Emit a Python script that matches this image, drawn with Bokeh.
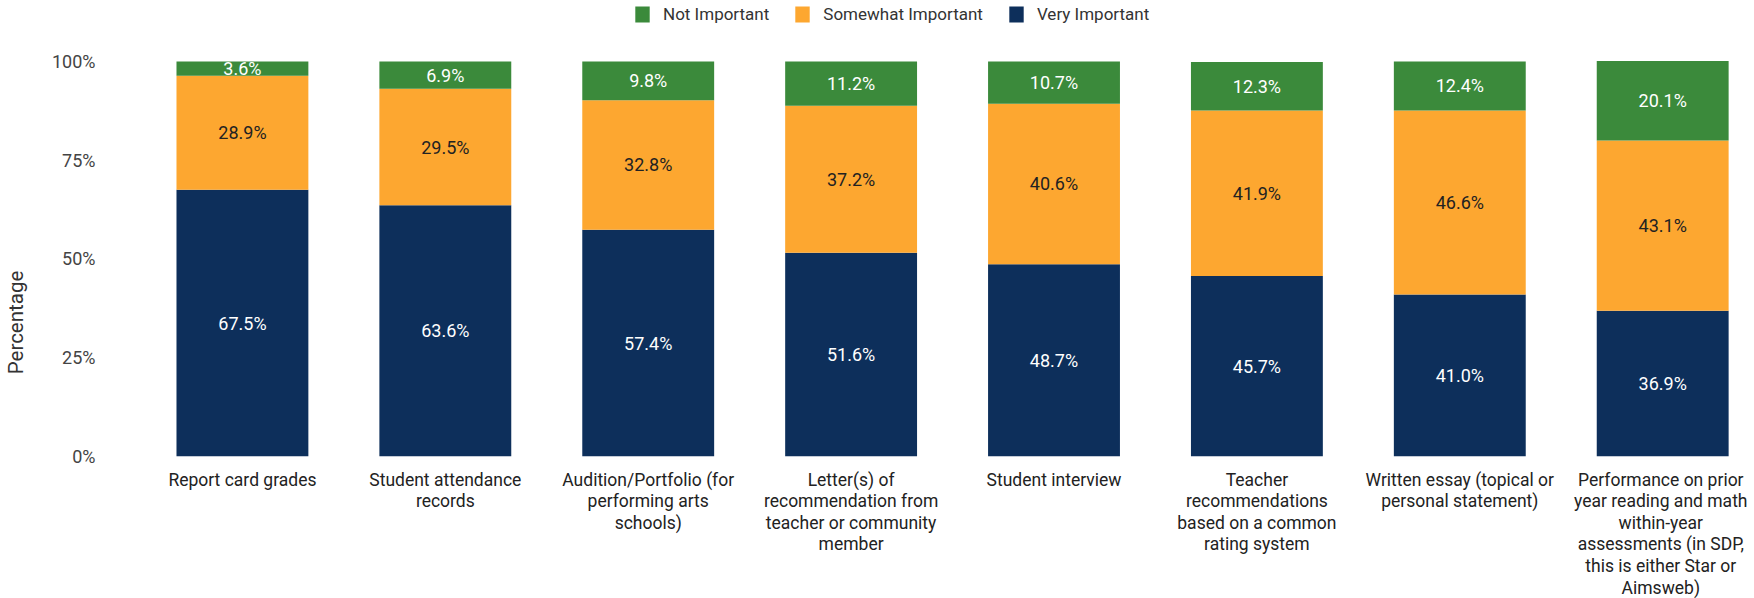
import math
from bokeh.plotting import figure
from bokeh.layouts import row
from bokeh.models import (ColumnDataSource, Range1d, FixedTicker, Legend, LegendItem)
from bokeh.core.properties import value
from bokeh.embed import file_html
from bokeh.resources import INLINE

categories = [
    "Report card grades",
    "Student attendance\nrecords",
    "Audition/Portfolio (for\nperforming arts\nschools)",
    "Letter(s) of\nrecommendation from\nteacher or community\nmember",
    "Student interview",
    "Teacher\nrecommendations\nbased on a common\nrating system",
    "Written essay (topical or\npersonal statement)",
    "Performance on prior\nyear reading and math\nwithin-year\nassessments (in SDP,\nthis is either Star or\nAimsweb)",
]
very_important = [67.5, 63.6, 57.4, 51.6, 48.7, 45.7, 41.0, 36.9]
somewhat_important = [28.9, 29.5, 32.8, 37.2, 40.6, 41.9, 46.6, 43.1]
not_important = [3.6, 6.9, 9.8, 11.2, 10.7, 12.3, 12.4, 20.1]
y_ticks = [0, 25, 50, 75, 100]
y_title = "Percentage"

GREEN = "#3b8a3b"
ORANGE = "#fda730"
NAVY = "#0d2f5b"
FONT = "Roboto"

TITLE_W = 30
FRAME_LEFT = 121
FRAME_W = 1626
FRAME_H = 456

# --- narrow side panel carrying the y-axis title ---
side = figure(
    output_backend="svg", toolbar_location=None,
    frame_width=TITLE_W, frame_height=FRAME_H,
    x_range=Range1d(0, TITLE_W), y_range=Range1d(0, FRAME_H),
    x_axis_location=None, y_axis_location=None,
    min_border_left=0, min_border_right=0, min_border_top=0, min_border_bottom=0,
)
side.outline_line_color = None
side.xgrid.visible = False
side.ygrid.visible = False
side.text(x=[15], y=[FRAME_H - 322], text=[y_title], angle=math.pi / 2,
          text_align="center", text_baseline="middle",
          text_font=value(FONT), text_font_size="20.5px", text_color="#333333")

# --- main chart ---
xs = list(range(len(categories)))
src = ColumnDataSource(dict(
    x=xs, very=very_important, somewhat=somewhat_important, notimp=not_important,
))

p = figure(
    output_backend="svg", toolbar_location=None,
    frame_width=FRAME_W, frame_height=FRAME_H,
    x_range=Range1d(-0.596, 7.418), y_range=Range1d(0, 115.44),
    min_border_left=FRAME_LEFT - TITLE_W, min_border_right=0,
    min_border_top=0, min_border_bottom=0,
)
p.outline_line_color = None
p.xgrid.visible = False
p.ygrid.visible = False
p.background_fill_color = "white"

rs = p.vbar_stack(["very", "somewhat", "notimp"], x="x", width=0.65, source=src,
                  color=[NAVY, ORANGE, GREEN], line_color=None)

# segment labels
bottoms_s = very_important
bottoms_n = [a + b for a, b in zip(very_important, somewhat_important)]
lab = ColumnDataSource(dict(
    x=xs * 3,
    y=[v / 2 for v in very_important]
      + [b + s / 2 for b, s in zip(bottoms_s, somewhat_important)]
      + [b + n / 2 for b, n in zip(bottoms_n, not_important)],
    t=[f"{v:.1f}%" for v in very_important]
      + [f"{v:.1f}%" for v in somewhat_important]
      + [f"{v:.1f}%" for v in not_important],
    c=["white"] * len(xs) + ["#222222"] * len(xs) + ["white"] * len(xs),
))
p.text(x="x", y="y", text="t", source=lab, text_color="c",
       text_align="center", text_baseline="middle",
       text_font=value(FONT), text_font_size="18px")

# axes
p.yaxis.ticker = FixedTicker(ticks=y_ticks)
p.yaxis.major_label_overrides = {t: f"{t}%" for t in y_ticks}
p.yaxis.major_label_text_font = FONT
p.yaxis.major_label_text_font_size = "18px"
p.yaxis.major_label_text_color = "#444444"
p.yaxis.major_tick_out = 0
p.yaxis.major_tick_in = 0
p.yaxis.major_label_standoff = 26
p.yaxis.axis_line_color = None
p.yaxis.major_tick_line_color = None
p.yaxis.minor_tick_line_color = None

p.xaxis.ticker = FixedTicker(ticks=xs)
p.xaxis.major_label_overrides = {i: c for i, c in zip(xs, categories)}
p.xaxis.major_label_text_font = FONT
p.xaxis.major_label_text_font_size = "17.5px"
p.xaxis.major_label_text_color = "#222222"
p.xaxis.major_label_text_line_height = 1.08
p.xaxis.major_label_standoff = 7
p.xaxis.axis_line_color = None
p.xaxis.major_tick_line_color = None
p.xaxis.minor_tick_line_color = None

legend = Legend(items=[
    LegendItem(label="Not Important", renderers=[rs[2]]),
    LegendItem(label="Somewhat Important", renderers=[rs[1]]),
    LegendItem(label="Very Important", renderers=[rs[0]]),
], location=(512, 432), orientation="horizontal")
legend.border_line_color = None
legend.background_fill_alpha = 0
legend.padding = 0
legend.margin = 0
legend.spacing = 24
legend.label_standoff = 12
legend.glyph_width = 18
legend.glyph_height = 20
legend.label_height = 20
legend.label_text_font = FONT
legend.label_text_font_size = "17px"
legend.label_text_color = "#333333"
p.add_layout(legend)

layout = row(side, p, spacing=0)
open("out.html", "w").write(file_html(layout, INLINE))
